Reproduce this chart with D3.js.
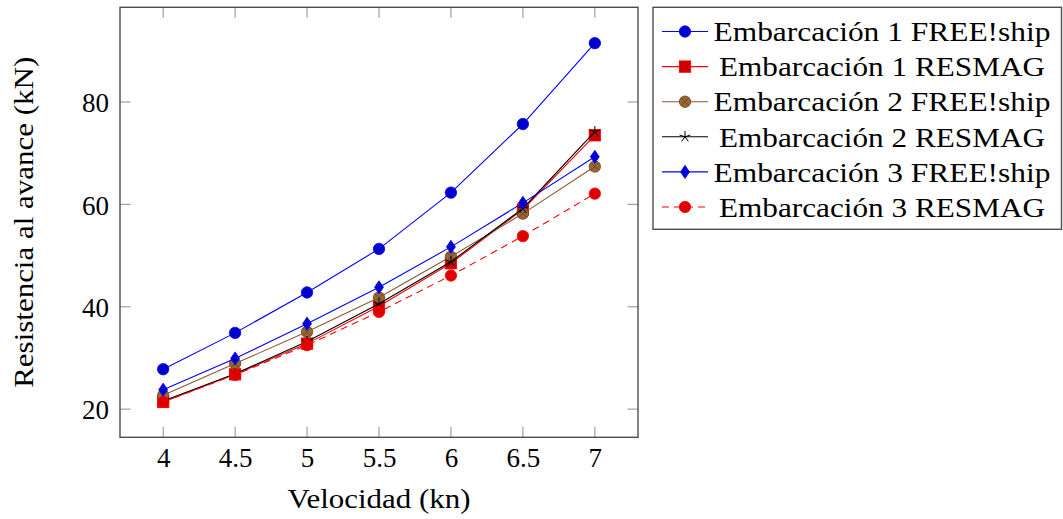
<!DOCTYPE html>
<html>
<head>
<meta charset="utf-8">
<script src="https://cdn.jsdelivr.net/npm/d3@7/dist/d3.min.js"></script>
<style>
  html, body { margin: 0; padding: 0; background: #fff; }
  svg { display: block; }
  text { font-family: "Liberation Serif", "DejaVu Serif", serif; fill: #000; }
</style>
</head>
<body>
<svg id="chart" width="1063" height="519"></svg>
<script>
const velocidad = [4, 4.5, 5, 5.5, 6, 6.5, 7];
const xTicks = [4, 4.5, 5, 5.5, 6, 6.5, 7];
const yTicks = [20, 40, 60, 80];

const emb1Free   = [27.8, 34.9, 42.8, 51.3, 62.3, 75.7, 91.5];
const emb1Resmag = [21.4, 26.8, 32.8, 40.1, 48.5, 59.0, 73.5];
const emb2Free   = [22.7, 28.9, 35.1, 41.8, 49.8, 58.2, 67.4];
const emb2Resmag = [21.6, 26.9, 33.2, 40.6, 48.8, 59.2, 74.2];
const emb3Free   = [23.8, 29.9, 36.7, 43.8, 51.7, 60.3, 69.3];
const emb3Resmag = [21.4, 26.7, 32.5, 39.0, 46.1, 53.8, 62.1];

const seriesNames = [
  "Embarcación 1 FREE!ship",
  "Embarcación 1 RESMAG",
  "Embarcación 2 FREE!ship",
  "Embarcación 2 RESMAG",
  "Embarcación 3 FREE!ship",
  "Embarcación 3 RESMAG"
];
const seriesValues = [emb1Free, emb1Resmag, emb2Free, emb2Resmag, emb3Free, emb3Resmag];

const styles = [
  { stroke: "#0000ff", fill: "#0000cc", mark: "circle", dash: null },
  { stroke: "#ff0000", fill: "#cc0000", mark: "square", dash: null },
  { stroke: "#8a5a32", fill: "#996633", mark: "otimes", dash: null },
  { stroke: "#000000", fill: "#000000", mark: "star", dash: null },
  { stroke: "#0000ff", fill: "#0000cc", mark: "diamond", dash: null },
  { stroke: "#ff0000", fill: "#dd0000", mark: "circle", dash: "7,5" }
];

const FS = 27;
const svg = d3.select("#chart");
const m = { left: 120, right: 638, top: 7.3, bottom: 437.3 };

const x = d3.scaleLinear().domain([3.7, 7.3]).range([m.left, m.right]);
const y = d3.scaleLinear().domain([14.5, 98.5]).range([m.bottom, m.top]);

// ticks (inward, on all four sides)
const tickLen = 10.5;
const gT = svg.append("g");
xTicks.forEach(t => {
  gT.append("line").attr("x1", x(t)).attr("x2", x(t)).attr("y1", m.bottom).attr("y2", m.bottom - tickLen)
    .attr("stroke", "#a0a0a0").attr("stroke-width", 1.2);
  gT.append("line").attr("x1", x(t)).attr("x2", x(t)).attr("y1", m.top).attr("y2", m.top + tickLen)
    .attr("stroke", "#a0a0a0").attr("stroke-width", 1.2);
});
yTicks.forEach(t => {
  gT.append("line").attr("x1", m.left).attr("x2", m.left + tickLen).attr("y1", y(t)).attr("y2", y(t))
    .attr("stroke", "#a0a0a0").attr("stroke-width", 1.2);
  gT.append("line").attr("x1", m.right).attr("x2", m.right - tickLen).attr("y1", y(t)).attr("y2", y(t))
    .attr("stroke", "#a0a0a0").attr("stroke-width", 1.2);
});

// tick labels via d3 axes (no lines)
const xAxis = d3.axisBottom(x).tickValues(xTicks).tickFormat(d3.format("")).tickSize(0).tickPadding(0);
const gx = svg.append("g").attr("transform", `translate(0,${m.bottom})`).call(xAxis);
gx.select(".domain").remove();
gx.selectAll("text").attr("font-size", FS).attr("y", 30).attr("dy", 0)
  .style("font-family", '"Liberation Serif", serif').attr("fill", "#000");

const yAxis = d3.axisLeft(y).tickValues(yTicks).tickFormat(d3.format("")).tickSize(0).tickPadding(0);
const gy = svg.append("g").attr("transform", `translate(${m.left},0)`).call(yAxis);
gy.select(".domain").remove();
gy.selectAll("text").attr("font-size", FS).attr("x", -11).attr("dy", "0.36em")
  .style("font-family", '"Liberation Serif", serif').attr("fill", "#000");

// frame
svg.append("rect").attr("x", m.left).attr("y", m.top).attr("width", m.right - m.left).attr("height", m.bottom - m.top)
  .attr("fill", "none").attr("stroke", "#4d4d4d").attr("stroke-width", 1.4);

// mark drawer
function drawMark(g, cx, cy, st) {
  const r = 5.7;
  if (st.mark === "circle") {
    g.append("circle").attr("cx", cx).attr("cy", cy).attr("r", r)
      .attr("fill", st.fill).attr("stroke", st.stroke).attr("stroke-width", 0.8);
  } else if (st.mark === "square") {
    g.append("rect").attr("x", cx - r).attr("y", cy - r).attr("width", 2 * r).attr("height", 2 * r)
      .attr("fill", st.fill).attr("stroke", st.stroke).attr("stroke-width", 0.8);
  } else if (st.mark === "otimes") {
    g.append("circle").attr("cx", cx).attr("cy", cy).attr("r", r)
      .attr("fill", st.fill).attr("stroke", "#6b4423").attr("stroke-width", 0.8);
    const d = r * Math.SQRT1_2;
    g.append("path").attr("d", `M${cx - d},${cy - d}L${cx + d},${cy + d}M${cx - d},${cy + d}L${cx + d},${cy - d}`)
      .attr("stroke", "#6b4423").attr("stroke-width", 0.9).attr("fill", "none");
  } else if (st.mark === "star") {
    let p = "";
    for (let k = 0; k < 5; k++) {
      const a = -Math.PI / 2 + k * 2 * Math.PI / 5;
      p += `M${cx},${cy}L${cx + r * Math.cos(a)},${cy + r * Math.sin(a)}`;
    }
    g.append("path").attr("d", p).attr("stroke", st.stroke).attr("stroke-width", 1).attr("fill", "none");
  } else if (st.mark === "diamond") {
    const h = r * 1.15, w = r * 0.78;
    g.append("path").attr("d", `M${cx},${cy - h}L${cx + w},${cy}L${cx},${cy + h}L${cx - w},${cy}Z`)
      .attr("fill", st.fill).attr("stroke", st.stroke).attr("stroke-width", 0.8);
  }
}

// series
const line = d3.line().x(d => x(d[0])).y(d => y(d[1]));
seriesValues.forEach((vals, i) => {
  const st = styles[i];
  const pts = velocidad.map((v, j) => [v, vals[j]]);
  const g = svg.append("g");
  g.append("path").attr("d", line(pts)).attr("fill", "none")
    .attr("stroke", st.stroke).attr("stroke-width", 1.1)
    .attr("stroke-dasharray", st.dash);
  pts.forEach(p => drawMark(g, x(p[0]), y(p[1]), st));
});

// legend
const lg = svg.append("g");
lg.append("rect").attr("x", 653).attr("y", 7.3).attr("width", 408.5).attr("height", 222)
  .attr("fill", "#fff").attr("stroke", "#4d4d4d").attr("stroke-width", 1.4);
seriesNames.forEach((name, i) => {
  const st = styles[i];
  const cy = 31.5 + i * 35.1;
  lg.append("line").attr("x1", 662).attr("x2", 708).attr("y1", cy).attr("y2", cy)
    .attr("stroke", st.stroke).attr("stroke-width", 1.1).attr("stroke-dasharray", st.dash);
  drawMark(lg, 685, cy, st);
  const free = name.indexOf("FREE") >= 0;
  lg.append("text").attr("x", 882).attr("y", cy).attr("dy", "0.36em").attr("text-anchor", "middle")
    .attr("font-size", FS).attr("textLength", free ? 337 : 326).attr("lengthAdjust", "spacingAndGlyphs")
    .text(name);
});

// axis labels
svg.append("text").attr("x", (m.left + m.right) / 2).attr("y", 508).attr("text-anchor", "middle")
  .attr("font-size", FS).attr("textLength", 183).attr("lengthAdjust", "spacingAndGlyphs")
  .text("Velocidad (kn)");
svg.append("text").attr("transform", `translate(33,${(m.top + m.bottom) / 2}) rotate(-90)`)
  .attr("text-anchor", "middle").attr("font-size", FS).attr("textLength", 331).attr("lengthAdjust", "spacingAndGlyphs")
  .text("Resistencia al avance (kN)");
</script>
</body>
</html>
